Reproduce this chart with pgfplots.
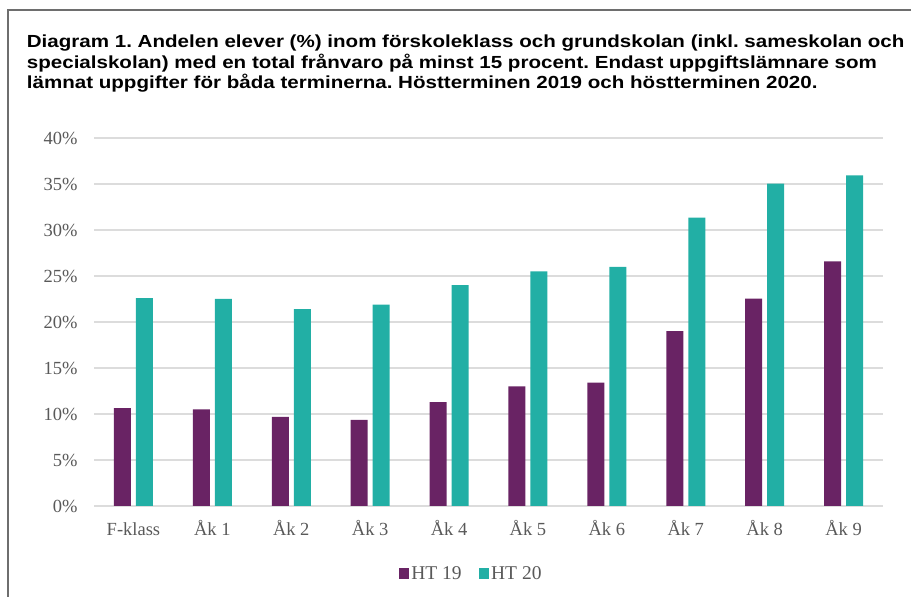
\documentclass[border=0pt]{standalone}
\usepackage{pgfplots}
\pgfplotsset{compat=1.18}
\usepackage{fontspec}
\setmainfont{Liberation Serif}
\newfontfamily\titlefont[FakeStretch=1.175]{Liberation Sans}
\definecolor{hpurple}{HTML}{692364}
\definecolor{hteal}{HTML}{22AFA5}
\definecolor{gridc}{HTML}{DCDCDC}
\definecolor{labc}{HTML}{595959}
\definecolor{framec}{HTML}{6E6E6E}
\frenchspacing
\begin{document}
\begin{tikzpicture}
\path[use as bounding box] (0pt,0pt) rectangle (911pt,597pt);
\draw[color=framec, line width=1.5pt] (8pt,-2pt) -- (8pt,587pt) -- (913pt,587pt);
\begin{scope}[every node/.style={anchor=base west, inner sep=0pt, font=\titlefont\bfseries\fontsize{17.5}{21}\selectfont}]
\node at (26.7pt,549.3pt) {Diagram 1. Andelen elever (\%) inom förskoleklass och grundskolan (inkl. sameskolan och};
\node at (26.7pt,528.7pt) {specialskolan) med en total frånvaro på minst 15 procent. Endast uppgiftslämnare som};
\node at (26.7pt,508.5pt) {lämnat uppgifter för båda terminerna. Höstterminen 2019 och höstterminen 2020.};
\end{scope}
\begin{axis}[
  at={(94pt,91pt)}, anchor=south west,
  scale only axis, width=789pt, height=368pt,
  ymin=0, ymax=40, xmin=-0.5, xmax=9.5,
  ytick={0,5,10,15,20,25,30,35,40},
  yticklabels={0\%,5\%,10\%,15\%,20\%,25\%,30\%,35\%,40\%},
  xtick={0,1,2,3,4,5,6,7,8,9},
  xticklabels={F-klass,Åk 1,Åk 2,Åk 3,Åk 4,Åk 5,Åk 6,Åk 7,Åk 8,Åk 9},
  axis line style={draw=none},
  major tick length=0pt,
  ymajorgrids, grid style={color=gridc, line width=1.5pt},
  tick label style={font=\fontsize{18.5}{20}\selectfont, text=labc},
  yticklabel style={xshift=-13pt},
  xticklabel style={anchor=base, yshift=-29.7pt},
  ybar=5pt, bar width=17pt,
  legend style={at={(0.478,-0.185)}, anchor=center, draw=none, fill=none,
    legend columns=-1, font=\fontsize{19.5}{20}\selectfont, text=labc,
    /tikz/every even column/.append style={column sep=15pt}},
  legend image code/.code={\fill[#1] (0pt,-5pt) rectangle (10.5pt,6.5pt);},
]
\addplot[fill=hpurple, draw=none] coordinates {
(0,10.65) (1,10.5) (2,9.7) (3,9.35) (4,11.3) (5,13.0) (6,13.4) (7,19.0) (8,22.55) (9,26.6)};
\addplot[fill=hteal, draw=none] coordinates {
(0,22.6) (1,22.5) (2,21.4) (3,21.9) (4,24.0) (5,25.5) (6,26.0) (7,31.35) (8,35.05) (9,35.95)};
\legend{HT 19, HT 20}
\end{axis}
\end{tikzpicture}
\end{document}
